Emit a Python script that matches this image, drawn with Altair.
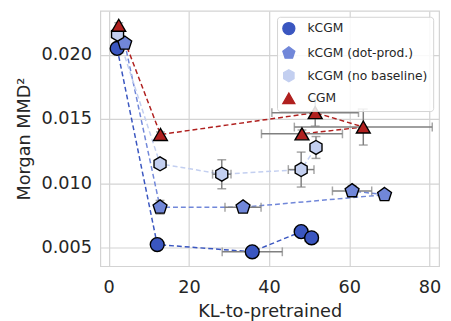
import altair as alt
import pandas as pd

series_names = ["kCGM", "kCGM (dot-prod.)", "kCGM (no baseline)", "CGM"]
colors = ["#3a56c0", "#7187d9", "#c3cff0", "#b0201f"]

# kCGM
k_x = [2.1, 12.1, 35.8, 48.0, 50.6]
k_y = [0.0205, 0.00523, 0.00467, 0.00624, 0.00576]
k_xerr = [0.3, 0.5, 7.5, 1.0, 1.6]
k_yerr = [0.0002, 0.0001, 0.0001, 0.0002, 0.00025]

# kCGM (dot-prod.)
d_x = [4.0, 12.8, 33.5, 68.8, 60.7]
d_y = [0.0209, 0.00814, 0.00814, 0.00911, 0.00941]
d_xerr = [0.3, 0.4, 4.5, 0.5, 4.9]
d_yerr = [0.0002, 0.00053, 0.0003, 0.0001, 0.0004]

# kCGM (no baseline)
n_x = [2.2, 12.8, 28.2, 48.0, 51.7]
n_y = [0.02161, 0.01152, 0.01071, 0.01107, 0.01279]
n_xerr = [0.3, 0.3, 2.3, 3.2, 0.5]
n_yerr = [0.0002, 0.0002, 0.00113, 0.00136, 0.00085]

# CGM
c_x = [2.5, 12.9, 51.5, 63.5, 48.2]
c_y = [0.0223, 0.0138, 0.0155, 0.01438, 0.01385]
c_xerr = [0.3, 0.3, 10.8, 17.2, 10.1]
c_yerr = [0.0002, 0.0002, 0.00105, 0.0014, 0.0003]

x_ticks = [0, 20, 40, 60, 80]
y_ticks = [0.005, 0.010, 0.015, 0.020]

pentagon = "M0,-1.05L0.999,-0.324L0.617,0.849L-0.617,0.849L-0.999,-0.324Z"
hexagon = "M0,-1L0.866,-0.5L0.866,0.5L0,1L-0.866,0.5L-0.866,-0.5Z"
shapes = ["circle", pentagon, hexagon, "triangle-up"]

rows = []
caps_x = []
caps_y = []
for name, xs, ys, xe, ye in [
    (series_names[0], k_x, k_y, k_xerr, k_yerr),
    (series_names[1], d_x, d_y, d_xerr, d_yerr),
    (series_names[2], n_x, n_y, n_xerr, n_yerr),
    (series_names[3], c_x, c_y, c_xerr, c_yerr),
]:
    for i, (x, y, a, b) in enumerate(zip(xs, ys, xe, ye)):
        rows.append(dict(series=name, idx=i, x=x, y=y, xlo=x - a, xhi=x + a, ylo=y - b, yhi=y + b))
        caps_x += [dict(series=name, cx=x - a, cy=y), dict(series=name, cx=x + a, cy=y)]
        caps_y += [dict(series=name, cx=x, cy=y - b), dict(series=name, cx=x, cy=y + b)]

df = pd.DataFrame(rows)
dfcx = pd.DataFrame(caps_x)
dfcy = pd.DataFrame(caps_y)

xscale = alt.Scale(domain=[-2.1, 82.4], nice=False, zero=False)
yscale = alt.Scale(domain=[0.00355, 0.02342], nice=False, zero=False)
cscale = alt.Scale(domain=series_names, range=colors)
sscale = alt.Scale(domain=series_names, range=shapes)

X = alt.X("x:Q", scale=xscale, title="KL-to-pretrained",
          axis=alt.Axis(values=x_ticks, format="d"))
Y = alt.Y("y:Q", scale=yscale, title="Morgan MMD²",
          axis=alt.Axis(values=y_ticks, format=".3f"))

leg = alt.Legend(title=None, orient="none", legendX=180, legendY=6,
                 symbolStrokeColor="black", symbolStrokeWidth=1.3)

lines = alt.Chart(df).mark_line(strokeDash=[5, 3], strokeWidth=1.5).encode(
    x=X, y=Y,
    color=alt.Color("series:N", scale=cscale, legend=leg),
    detail="series:N",
    order="idx:Q",
)

err_col = "#808080"
xerr_rule = alt.Chart(df).mark_rule(color=err_col, strokeWidth=1.5).encode(
    x=alt.X("xlo:Q", scale=xscale), x2="xhi:Q", y=alt.Y("y:Q", scale=yscale))
yerr_rule = alt.Chart(df).mark_rule(color=err_col, strokeWidth=1.5).encode(
    x=alt.X("x:Q", scale=xscale), y=alt.Y("ylo:Q", scale=yscale), y2="yhi:Q")
xcaps = alt.Chart(dfcx).mark_tick(orient="vertical", color=err_col, size=9, thickness=1.5).encode(
    x=alt.X("cx:Q", scale=xscale), y=alt.Y("cy:Q", scale=yscale))
ycaps = alt.Chart(dfcy).mark_tick(orient="horizontal", color=err_col, size=9, thickness=1.5).encode(
    x=alt.X("cx:Q", scale=xscale), y=alt.Y("cy:Q", scale=yscale))

points = alt.Chart(df).mark_point(filled=True, size=200, opacity=1, stroke="black", strokeWidth=1.4).encode(
    x=X, y=Y,
    color=alt.Color("series:N", scale=cscale, legend=leg),
    shape=alt.Shape("series:N", scale=sscale, legend=leg),
)

chart = alt.layer(lines, xerr_rule, yerr_rule, xcaps, ycaps, points).properties(
    width=345, height=260,
    autosize=alt.AutoSizeParams(type="none"),
    padding={"left": 94, "top": 0, "right": 4, "bottom": 60},
).configure(font="DejaVu Sans").configure_axis(
    labelFontSize=18, titleFontSize=18, labelColor="#262626", titleColor="#262626",
    titleFontWeight="normal", grid=True, gridColor="#d3d3d3", gridWidth=1.2,
    domain=False, ticks=False, labelPadding=9,
).configure_axisY(titlePadding=8).configure_axisX(titlePadding=6, labelPadding=13).configure_view(
    stroke="#d3d3d3", strokeWidth=1.2
).configure_legend(
    labelFontSize=12.5, labelColor="#262626", symbolSize=150, symbolStrokeColor="black",
    symbolStrokeWidth=1.3, fillColor="rgba(255,255,255,0.85)", strokeColor="#d3d3d3",
    padding=5, cornerRadius=3, rowPadding=6, labelOffset=12,
)

chart.save("out.html", embed_options={"renderer": "svg", "actions": False})
